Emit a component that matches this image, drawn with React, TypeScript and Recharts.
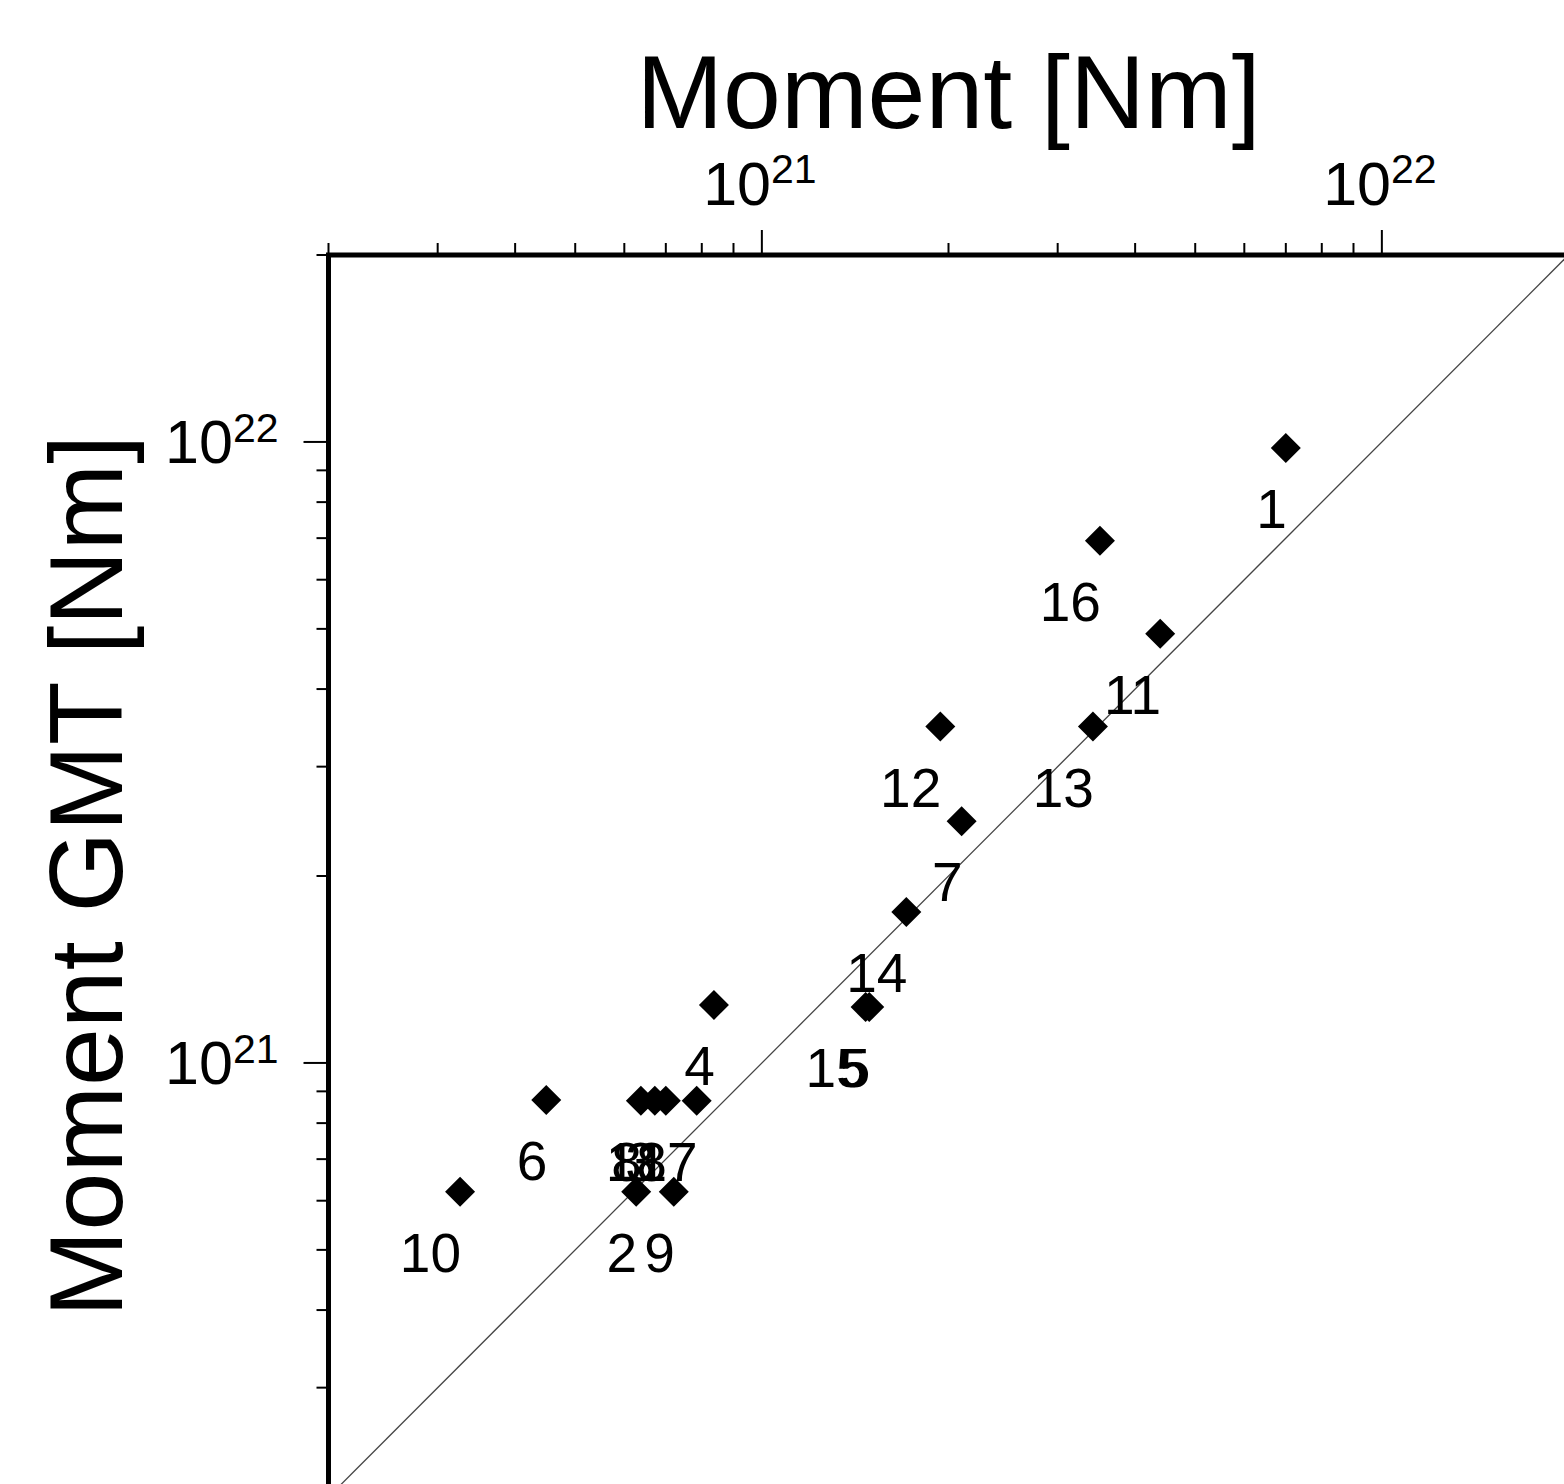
import React from 'react';
import {
  ScatterChart,
  Scatter,
  XAxis,
  YAxis,
  ReferenceLine,
  ReferenceArea,
} from 'recharts';

const FONT = '"Liberation Sans", Arial, Helvetica, sans-serif';

// Event labels and their moments [Nm]
const labels = ['1', '16', '11', '13', '12', '7', '14', '15', '5', '4', '6', '8', '3', '18', '17', '10', '2', '9'];
const momentX = [7.0e21, 3.51e21, 4.39e21, 3.42e21, 1.94e21, 2.1e21, 1.71e21, 1.47e21, 1.49e21, 8.37e20, 4.49e20, 6.38e20, 6.72e20, 7.0e20, 7.85e20, 3.26e20, 6.27e20, 7.21e20];
const momentGMT = [9.78e21, 6.93e21, 4.91e21, 3.48e21, 3.48e21, 2.45e21, 1.75e21, 1.23e21, 1.23e21, 1.24e21, 8.72e20, 8.69e20, 8.69e20, 8.69e20, 8.69e20, 6.2e20, 6.2e20, 6.2e20];

const axisDomain = [2e20, 2e22];
const diagonal = [2e20, 2e22];
const logTicks = [
  2e20, 3e20, 4e20, 5e20, 6e20, 7e20, 8e20, 9e20,
  1e21, 2e21, 3e21, 4e21, 5e21, 6e21, 7e21, 8e21, 9e21,
  1e22, 2e22,
];

const points = labels.map((label, i) => ({ label, x: momentX[i], y: momentGMT[i] }));

const isPow10 = (v: number) => Math.abs(Math.log10(v) - Math.round(Math.log10(v))) < 1e-6;

const XTick = (props: any) => {
  const { x, y, payload } = props;
  const v = payload.value;
  const major = isPow10(v);
  const exp = Math.round(Math.log10(v));
  return (
    <g>
      <line x1={x} x2={x} y1={y} y2={y - (major ? 25 : 12)} stroke="#000" strokeWidth={2} />
      {major && (
        <text x={x - 2} y={y - 50} textAnchor="middle" fontSize={61} fontFamily={FONT} fill="#000">
          10
          <tspan dy={-22} fontSize={41}>{exp}</tspan>
        </text>
      )}
    </g>
  );
};

const YTick = (props: any) => {
  const { x, y, payload } = props;
  const v = payload.value;
  const major = isPow10(v);
  const exp = Math.round(Math.log10(v));
  return (
    <g>
      <line x1={x} x2={x - (major ? 25 : 12)} y1={y} y2={y} stroke="#000" strokeWidth={2} />
      {major && (
        <text x={x - 50} y={y + 21} textAnchor="end" fontSize={61} fontFamily={FONT} fill="#000">
          10
          <tspan dy={-21} fontSize={41}>{exp}</tspan>
        </text>
      )}
    </g>
  );
};

const Diamond = (props: any) => {
  const { cx, cy, payload } = props;
  if (cx == null || cy == null) return null;
  const r = 15;
  return (
    <g>
      <polygon
        points={`${cx},${cy - r} ${cx + r},${cy} ${cx},${cy + r} ${cx - r},${cy}`}
        fill="#000"
      />
      <text x={cx + 1} y={cy + 80} textAnchor="end" fontSize={55} fontFamily={FONT} fill="#000">
        {payload.label}
      </text>
    </g>
  );
};

const XTitle = (props: any) => {
  const vb = props.viewBox || {};
  return (
    <text
      x={vb.x + vb.width / 2}
      y={vb.y + vb.height - 127}
      textAnchor="middle"
      fontSize={104}
      fontFamily={FONT}
      fill="#000"
    >
      Moment [Nm]
    </text>
  );
};

const YTitle = (props: any) => {
  const vb = props.viewBox || {};
  const cx = vb.x + 122;
  const cy = vb.y + vb.height / 2;
  return (
    <text
      x={cx}
      y={cy}
      transform={`rotate(-90 ${cx} ${cy})`}
      textAnchor="middle"
      fontSize={104}
      fontFamily={FONT}
      fill="#000"
    >
      Moment GMT [Nm]
    </text>
  );
};

export default function App() {
  return (
    <div
      style={{
        position: 'absolute',
        left: 0,
        top: 0,
        width: 1564,
        height: 1484,
        overflow: 'hidden',
        background: '#fff',
      }}
    >
      <ScatterChart
        width={1600}
        height={1530}
        margin={{ top: 0, left: 0, right: 31.5, bottom: 33 }}
      >
        <XAxis
          type="number"
          dataKey="x"
          scale="log"
          domain={axisDomain}
          allowDataOverflow
          orientation="top"
          height={255}
          ticks={logTicks}
          interval={0}
          tickLine={false}
          axisLine={false}
          tickSize={0}
          tickMargin={0}
          tick={<XTick />}
          label={<XTitle />}
        />
        <YAxis
          type="number"
          dataKey="y"
          scale="log"
          domain={axisDomain}
          allowDataOverflow
          orientation="left"
          width={328.5}
          ticks={logTicks}
          interval={0}
          tickLine={false}
          axisLine={false}
          tickSize={0}
          tickMargin={0}
          tick={<YTick />}
          label={<YTitle />}
        />
        <ReferenceLine
          segment={[
            { x: diagonal[0], y: diagonal[0] },
            { x: diagonal[1], y: diagonal[1] },
          ]}
          stroke="#444"
          strokeWidth={1.3}
          ifOverflow="visible"
        />
        <ReferenceArea
          x1={axisDomain[0]}
          x2={axisDomain[1]}
          y1={axisDomain[0]}
          y2={axisDomain[1]}
          fill="none"
          fillOpacity={0}
          stroke="#000"
          strokeWidth={5}
          ifOverflow="visible"
        />
        <Scatter data={points} shape={<Diamond />} isAnimationActive={false} />
      </ScatterChart>
    </div>
  );
}
